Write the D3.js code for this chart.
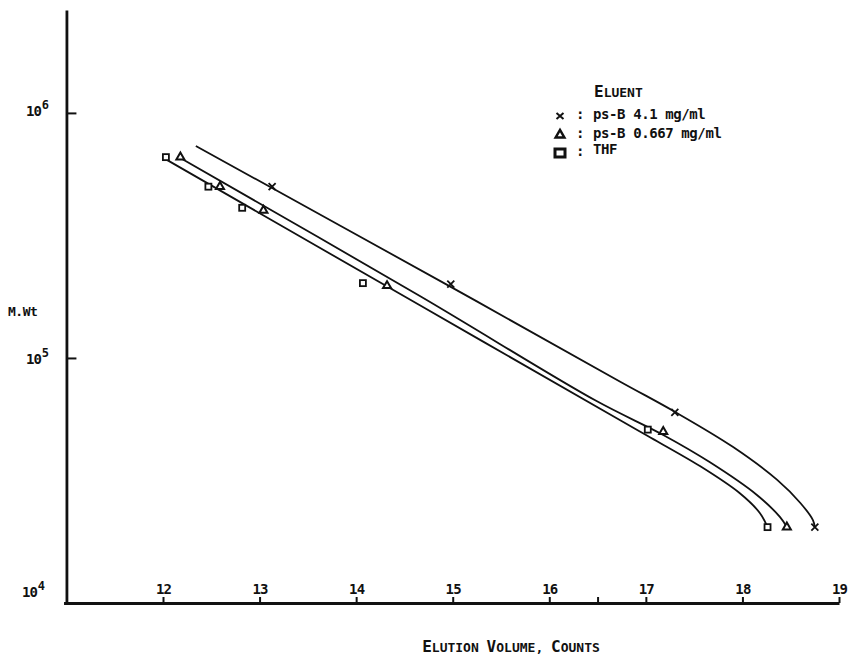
<!DOCTYPE html>
<html>
<head>
<meta charset="utf-8">
<script src="https://cdn.jsdelivr.net/npm/d3@7"></script>
<style>
  body { margin: 0; background: #fff; }
  text { font-family: "DejaVu Sans Mono", "Liberation Mono", monospace; font-weight: bold; fill: #111; }
</style>
</head>
<body>
<svg class="chart" width="850" height="664"></svg>
<script>
// measured points (elution volume in counts, molecular weight)
var volPsB41 = [13.13, 14.98, 17.30, 18.75];
var mwPsB41  = [5.0e5, 2.0e5, 6.0e4, 2.04e4];

var volPsB067 = [12.18, 12.59, 13.04, 14.32, 17.18, 18.46];
var mwPsB067  = [6.6e5, 5.0e5, 4.0e5, 1.97e5, 5.0e4, 2.04e4];

var volTHF = [12.03, 12.47, 12.82, 14.07, 17.02, 18.26];
var mwTHF  = [6.6e5, 5.0e5, 4.1e5, 2.02e5, 5.1e4, 2.04e4];

// hand drawn calibration curves
var curveVolPsB41 = [12.34, 14.98, 16.73, 17.30, 17.90, 18.36, 18.60, 18.73, 18.75];
var curveMwPsB41  = [7.33e5, 1.95e5, 8.02e4, 6.03e4, 4.34e4, 3.18e4, 2.56e4, 2.18e4, 2.04e4];

var curveVolPsB067 = [12.18, 14.66, 16.48, 17.18, 17.66, 18.15, 18.39, 18.46];
var curveMwPsB067  = [6.55e5, 1.79e5, 6.7e4, 4.85e4, 3.76e4, 2.76e4, 2.24e4, 2.04e4];

var curveVolTHF = [12.04, 14.66, 16.73, 17.02, 17.56, 17.97, 18.18, 18.26];
var curveMwTHF  = [6.43e5, 1.64e5, 5.58e4, 4.80e4, 3.62e4, 2.81e4, 2.33e4, 2.04e4];

var xTicks = [12, 13, 14, 15, 16, 16.5, 17, 18, 19];
var yTicks = [1e4, 1e5, 1e6];
var yTickExp = ['4', '5', '6'];

var legendLabels = ['ps-B 4.1 mg/ml', 'ps-B 0.667 mg/ml', 'THF'];

function zip(a, b) {
  return a.map(function(v, i) { return { v: v, mw: b[i] }; });
}

var x = d3.scaleLinear()
  .domain([10.97, 19])
  .range([163 - 1.03 * 96.57, 839]);

var y = d3.scaleLog()
  .domain([1e4, 2.63e6])
  .range([603, 10]);

var svg = d3.select('svg.chart');

// y axis sits at 11 counts, ticks point into the plot
var yAxis = d3.axisLeft(y)
  .tickValues(yTicks)
  .tickSizeInner(-10)
  .tickSizeOuter(0)
  .tickFormat('');

svg.append('g')
  .attr('class', 'y axis')
  .attr('transform', 'translate(' + x(11) + ',0)')
  .call(yAxis)
  .call(function(g) {
    g.select('.domain').attr('stroke', '#111').attr('stroke-width', 2.8);
    g.selectAll('.tick line').attr('stroke', '#111').attr('stroke-width', 2);
  });

// hand lettered labels do not sit at the same height on each tick
var yLabelShift = [-6, 6, 3];

var yLab = svg.append('g').attr('class', 'y labels')
  .selectAll('text')
  .data(yTicks)
  .enter()
    .append('text')
      .attr('x', function(d, i) { return i === 0 ? 22 : 26; })
      .attr('y', function(d, i) { return y(d) + yLabelShift[i]; })
      .attr('font-size', 14);
yLab.append('tspan').text('10').attr('letter-spacing', -1);
yLab.append('tspan')
  .text(function(d, i) { return yTickExp[i]; })
  .attr('font-size', 12)
  .attr('dy', -7)
  .attr('dx', 1);

svg.append('text')
  .attr('x', 8)
  .attr('y', 316)
  .attr('font-size', 13)
  .attr('letter-spacing', -0.5)
  .text('M.Wt');

// x axis, labels sit above the line
var xAxis = d3.axisBottom(x)
  .tickValues(xTicks)
  .tickSizeInner(-6)
  .tickSizeOuter(0)
  .tickFormat(function(d) { return d % 1 === 0 ? d : ''; });

svg.append('g')
  .attr('class', 'x axis')
  .attr('transform', 'translate(0,603)')
  .call(xAxis)
  .call(function(g) {
    g.select('.domain').attr('stroke', '#111').attr('stroke-width', 2.8);
    g.selectAll('.tick line').attr('stroke', '#111').attr('stroke-width', 2);
    g.selectAll('.tick text')
      .attr('y', -9)
      .attr('dy', 0)
      .attr('font-size', 14)
      .attr('letter-spacing', -0.8)
      .attr('font-family', '"DejaVu Sans Mono", monospace')
      .attr('font-weight', 'bold')
      .attr('fill', '#111');
  });

// small caps axis title
var title = svg.append('text')
  .attr('x', 511)
  .attr('y', 652)
  .attr('text-anchor', 'middle');
[['E', 16], ['LUTION ', 13], ['V', 16], ['OLUME, ', 13], ['C', 16], ['OUNTS', 13]]
  .forEach(function(p) {
    title.append('tspan').attr('font-size', p[1]).text(p[0]);
  });

// curves
var line = d3.line()
  .x(function(d) { return x(d.v); })
  .y(function(d) { return y(d.mw); })
  .curve(d3.curveCatmullRom.alpha(0.5));

var curves = [
  zip(curveVolPsB41, curveMwPsB41),
  zip(curveVolPsB067, curveMwPsB067),
  zip(curveVolTHF, curveMwTHF)
];

svg.append('g')
  .attr('class', 'curves')
  .selectAll('path')
  .data(curves)
  .enter()
    .append('path')
      .attr('d', line)
      .attr('fill', 'none')
      .attr('stroke', '#111')
      .attr('stroke-width', 1.8);

// markers
var crossPath = 'M-3.5,-3.5L3.5,3.5M-3.5,3.5L3.5,-3.5';
var tri = d3.symbol().type(d3.symbolTriangle).size(28);

svg.append('g').attr('class', 'psb41')
  .selectAll('path')
  .data(zip(volPsB41, mwPsB41))
  .enter()
    .append('path')
      .attr('d', crossPath)
      .attr('transform', function(d) { return 'translate(' + x(d.v) + ',' + y(d.mw) + ')'; })
      .attr('stroke', '#111')
      .attr('stroke-width', 1.8)
      .attr('fill', 'none');

svg.append('g').attr('class', 'psb067')
  .selectAll('path')
  .data(zip(volPsB067, mwPsB067))
  .enter()
    .append('path')
      .attr('d', tri)
      .attr('transform', function(d) { return 'translate(' + x(d.v) + ',' + y(d.mw) + ')'; })
      .attr('stroke', '#111')
      .attr('stroke-width', 2)
      .attr('fill', '#fff');

svg.append('g').attr('class', 'thf')
  .selectAll('rect')
  .data(zip(volTHF, mwTHF))
  .enter()
    .append('rect')
      .attr('x', function(d) { return x(d.v) - 3; })
      .attr('y', function(d) { return y(d.mw) - 3; })
      .attr('width', 6)
      .attr('height', 6)
      .attr('stroke', '#111')
      .attr('stroke-width', 1.8)
      .attr('fill', '#fff');

// legend
var legend = svg.append('g')
  .attr('class', 'legend')
  .attr('transform', 'translate(560,0)');

var head = legend.append('text').attr('x', 34).attr('y', 97);
head.append('tspan').attr('font-size', 16).text('E');
head.append('tspan').attr('font-size', 13).text('LUENT');

var rows = legend.selectAll('g.row')
  .data(legendLabels)
  .enter()
    .append('g')
      .attr('class', 'row')
      .attr('transform', function(d, i) { return 'translate(0,' + [116, 135, 153][i] + ')'; });

rows.append('text')
  .attr('x', 16)
  .attr('y', 3)
  .attr('font-size', 14)
  .text(':');

rows.append('text')
  .attr('x', 33)
  .attr('y', function(d, i) { return i === 2 ? 1 : 3; })
  .attr('font-size', 14)
  .attr('letter-spacing', -0.4)
  .text(function(d) { return d; });

rows.each(function(d, i) {
  var r = d3.select(this);
  if (i === 0) {
    r.append('path').attr('d', 'M-3.5,-3L3.5,3M-3.5,3L3.5,-3')
      .attr('stroke', '#111').attr('stroke-width', 2);
  } else if (i === 1) {
    r.append('path').attr('d', d3.symbol().type(d3.symbolTriangle).size(34))
      .attr('stroke', '#111').attr('stroke-width', 2.4).attr('fill', '#fff');
  } else {
    r.append('rect').attr('x', -5).attr('y', -4).attr('width', 10).attr('height', 8)
      .attr('stroke', '#111').attr('stroke-width', 3).attr('fill', '#fff');
  }
});
</script>
</body>
</html>
